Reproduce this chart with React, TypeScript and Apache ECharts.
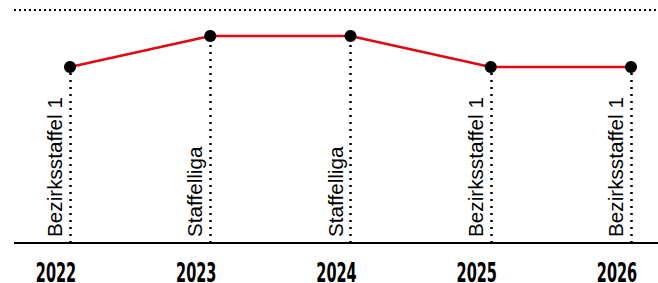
import React, { useEffect, useRef } from "react";
import * as echarts from "echarts";

const years = ["2022", "2023", "2024", "2025", "2026"];
const leagues = ["Bezirksstaffel 1", "Staffelliga", "Staffelliga", "Bezirksstaffel 1", "Bezirksstaffel 1"];
const levels = [1, 2, 2, 1, 1];
const yMin = -4.677;
const yMax = 2.839;

export default function App() {
  const ref = useRef<HTMLDivElement>(null);
  useEffect(() => {
    if (!ref.current) return;
    const chart = echarts.init(ref.current, null, { renderer: "svg" });
    chart.setOption({
      animation: false,
      grid: { left: 70, right: 27, top: 10, bottom: 40 },
      xAxis: {
        type: "category",
        data: years,
        boundaryGap: false,
        axisLine: { show: false },
        axisTick: { show: false },
        axisLabel: { show: false },
      },
      yAxis: { type: "value", min: yMin, max: yMax, show: false },
      series: [
        {
          type: "line",
          data: levels,
          z: 5,
          symbol: "circle",
          symbolSize: 12,
          itemStyle: { color: "#000" },
          lineStyle: { color: "#e30613", width: 2.5 },
          markLine: {
            silent: true,
            symbol: ["none", "none"],
            lineStyle: { color: "#000", width: 2.5, type: [2, 5] },
            label: {
              show: true,
              position: "insideStartTop",
              distance: [6, 5],
              fontSize: 20.7,
              color: "#000",
              fontFamily: "Liberation Sans",
              formatter: (p: any) => p.name,
            },
            data: years.map((y, i) => [
              { name: leagues[i], coord: [y, yMin] },
              { name: leagues[i], coord: [y, levels[i]] },
            ]),
          },
        },
      ],
    });
    const base = chart.convertToPixel({ yAxisIndex: 0 }, yMin) as number;
    const top = chart.convertToPixel({ yAxisIndex: 0 }, yMax) as number;
    const yearTexts = years.map((y, i) => {
      const px = chart.convertToPixel({ xAxisIndex: 0 }, y) as number;
      return {
        id: "year" + i,
        type: "text",
        x: px - 14,
        y: base + 20.5,
        scaleX: 0.62,
        style: {
          text: y,
          fill: "#000",
          font: "bold 26px 'DejaVu Sans Condensed', 'DejaVu Sans', sans-serif",
          lineHeight: 19,
          textAlign: "center",
          textVerticalAlign: "top",
        },
      };
    });
    chart.setOption({
      graphic: [
        {
          id: "baseline",
          type: "line",
          shape: { x1: 14, y1: base, x2: 658, y2: base },
          style: { stroke: "#000", lineWidth: 2 },
        },
        {
          id: "topline",
          type: "line",
          shape: { x1: 14, y1: top, x2: 658, y2: top },
          style: { stroke: "#000", lineWidth: 2, lineDash: [2, 3] },
        },
        ...yearTexts,
      ],
    });
    return () => chart.dispose();
  }, []);
  return <div ref={ref} style={{ width: 658, height: 283, position: "absolute", left: 0, top: 0 }} />;
}
